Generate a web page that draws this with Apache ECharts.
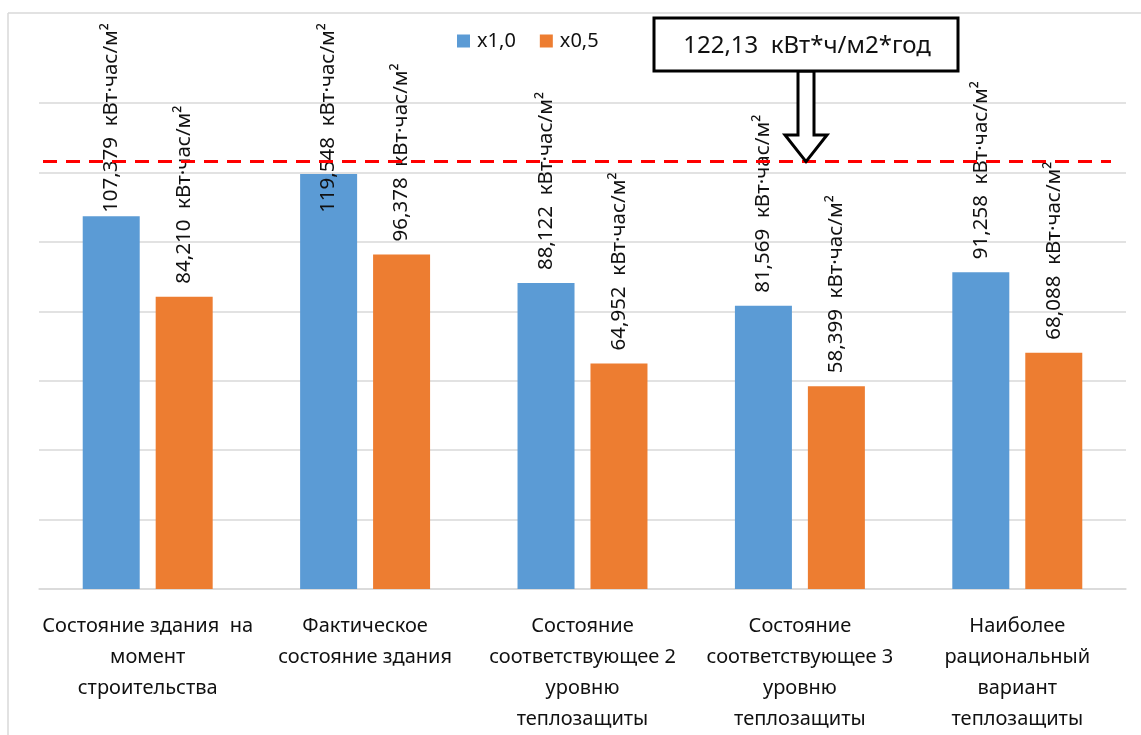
<!DOCTYPE html>
<html>
<head>
<meta charset="utf-8">
<script src="https://cdn.jsdelivr.net/npm/echarts@6/dist/echarts.min.js"></script>
<style>
html,body{margin:0;padding:0;background:#fff;}
#chart{width:1141px;height:735px;}
</style>
</head>
<body>
<div id="chart"></div>
<script>
var categories = [
  'Состояние здания  на\nмомент\nстроительства',
  'Фактическое\nсостояние здания',
  'Состояние\nсоответствующее 2\nуровню\nтеплозащиты',
  'Состояние\nсоответствующее 3\nуровню\nтеплозащиты',
  'Наиболее\nрациональный\nвариант\nтеплозащиты'
];
var seriesNames = ['x1,0', 'x0,5'];
var valuesX10 = [107.379, 119.548, 88.122, 81.569, 91.258];
var valuesX05 = [84.210, 96.378, 64.952, 58.399, 68.088];
var refLineLevel = 123.1;
var refLabel = '122,13  кВт*ч/м2*год';
var unitText = '  кВт·час/м²';
var yTicks = {min: 0, max: 140, interval: 20};

var FONT = 'Noto Sans';
var chart = echarts.init(document.getElementById('chart'));

function fmt(p){ return p.value.toFixed(3).replace('.', ',') + unitText; }

var labelCfg = {
  show: true, position: 'top', distance: 13, rotate: 90,
  align: 'left', verticalAlign: 'middle',
  fontFamily: FONT, fontSize: 20.5, color: '#111',
  formatter: fmt
};
function clampLayout(p){
  var topLimit = 23;
  var len = p.labelRect.height;
  var anchorY = p.rect.y - 13;
  if (anchorY - len < topLimit) {
    return { x: p.rect.x + p.rect.width / 2, y: topLimit + len, align: 'left', verticalAlign: 'middle' };
  }
  return {};
}

var option = {
  animation: false,
  backgroundColor: '#fff',
  textStyle: {fontFamily: FONT},
  grid: {left: 39, right: 15, top: 103, bottom: 142, containLabel: false},
  legend: {
    left: 452, top: 26, itemWidth: 13, itemHeight: 13, itemGap: 24, icon: 'rect',
    textStyle: {fontFamily: FONT, fontSize: 20, color: '#111', padding: [0,0,0,2]},
    data: seriesNames
  },
  xAxis: {
    type: 'category', data: categories,
    axisLine: {lineStyle: {color: '#D9D9D9', width: 1.5}},
    axisTick: {show: false},
    axisLabel: {interval: 0, margin: 22, fontFamily: FONT, fontSize: 20, lineHeight: 31, color: '#111'}
  },
  yAxis: {
    type: 'value', min: yTicks.min, max: yTicks.max, interval: yTicks.interval,
    axisLine: {show: false}, axisTick: {show: false}, axisLabel: {show: false},
    splitLine: {lineStyle: {color: '#D9D9D9', width: 1.5}}
  },
  series: [
    {
      name: seriesNames[0], type: 'bar', data: valuesX10, barWidth: 57, barGap: '28%',
      itemStyle: {color: '#5B9BD5'}, label: labelCfg, labelLayout: clampLayout,
      markLine: {
        silent: true, symbol: 'none', label: {show: false},
        lineStyle: {color: '#FF0000', type: [14, 9], width: 3},
        data: [[{x: 43, yAxis: refLineLevel}, {x: 1111, yAxis: refLineLevel}]]
      }
    },
    {
      name: seriesNames[1], type: 'bar', data: valuesX05, barWidth: 57,
      itemStyle: {color: '#ED7D31'}, label: labelCfg, labelLayout: clampLayout
    }
  ]
};
chart.setOption(option);

var tipY = chart.convertToPixel({yAxisIndex: 0}, refLineLevel);
chart.setOption({
  graphic: [
    {type: 'line', shape: {x1: 8, y1: 13, x2: 1141, y2: 13}, style: {stroke: '#D9D9D9', lineWidth: 1.5}, silent: true},
    {type: 'line', shape: {x1: 8, y1: 13, x2: 8, y2: 735}, style: {stroke: '#D9D9D9', lineWidth: 1.5}, silent: true},
    {type: 'polygon', shape: {points: [[798,71],[798,135],[785,135],[806,tipY],[827,135],[814,135],[814,71]]},
     style: {fill: '#fff', stroke: '#000', lineWidth: 3, lineJoin: 'miter'}, z: 100},
    {type: 'rect', shape: {x: 654, y: 18, width: 304, height: 53},
     style: {fill: '#fff', stroke: '#000', lineWidth: 3}, z: 101},
    {type: 'text', x: 807, y: 46, z: 102,
     style: {text: refLabel, fontFamily: FONT, fontSize: 24, fill: '#111', align: 'center', verticalAlign: 'middle'}}
  ]
});
</script>
</body>
</html>
